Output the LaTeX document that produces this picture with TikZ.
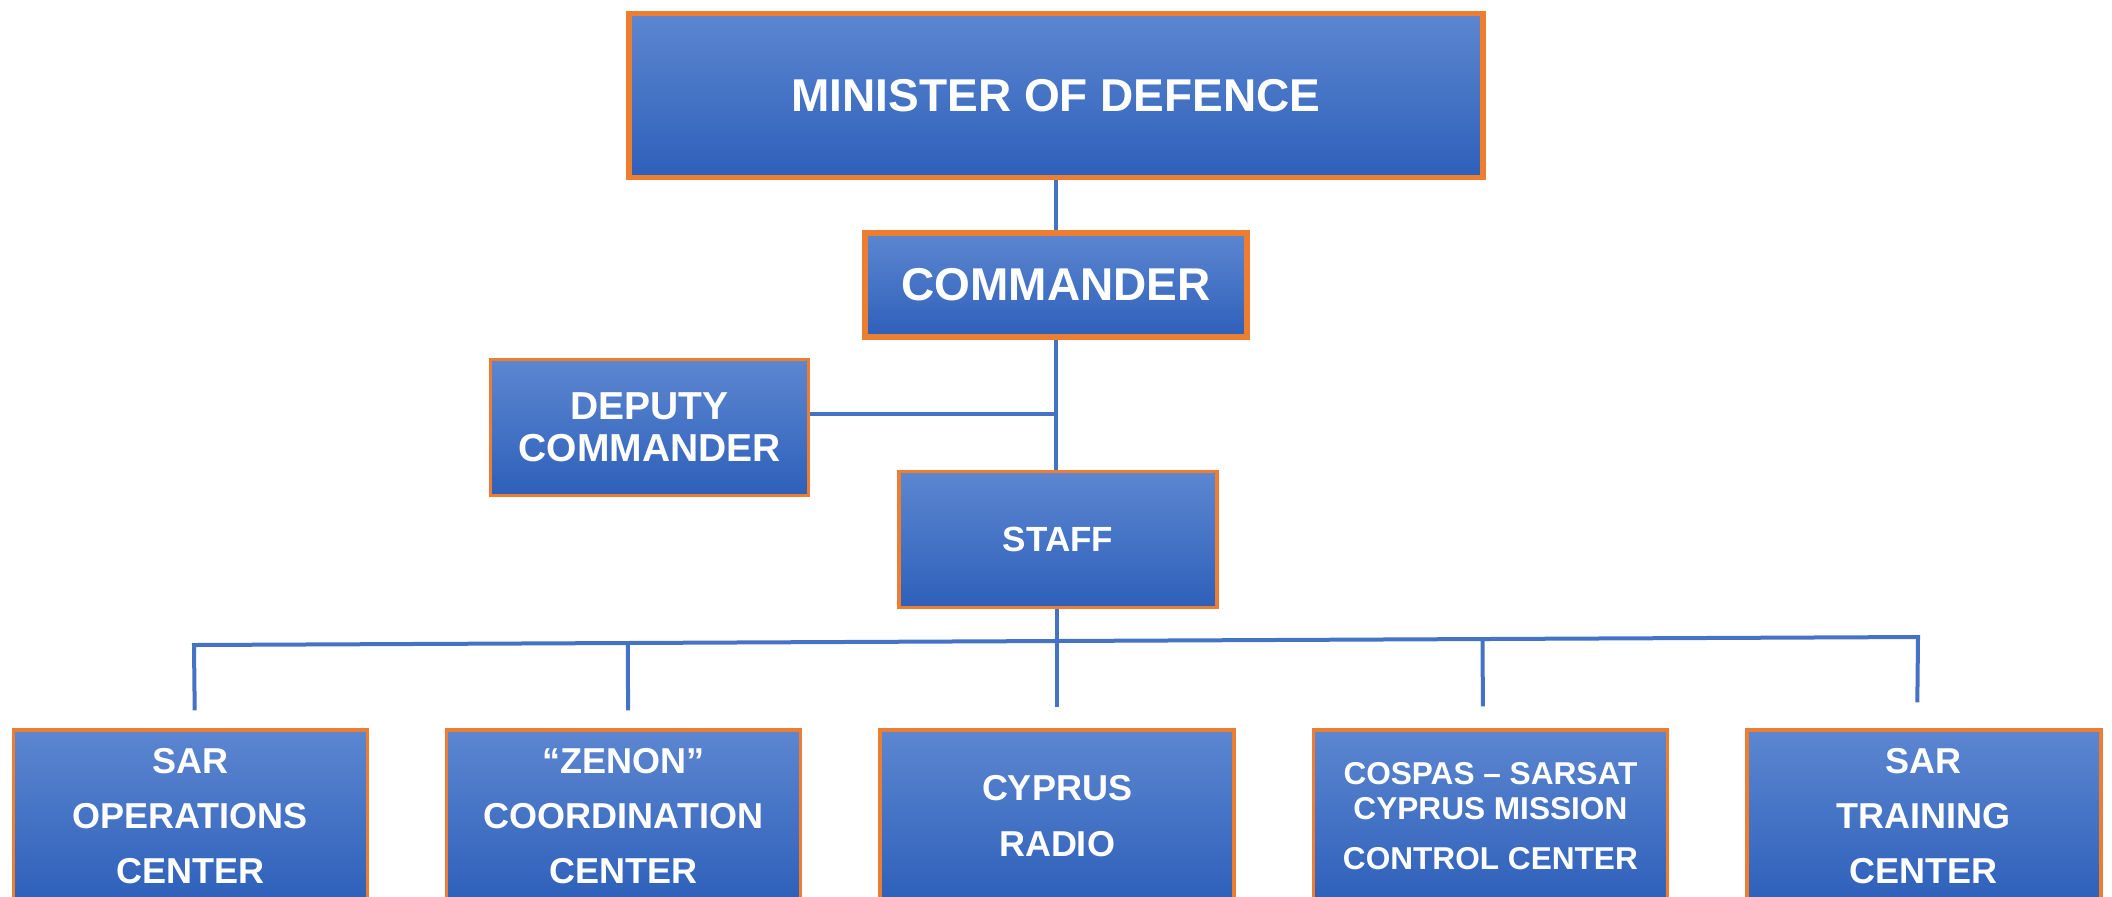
\documentclass[tikz,border=0pt]{standalone}
\usepackage{fontspec}
\setmainfont{Liberation Sans}
\usepackage{tikz}
\usetikzlibrary{positioning,calc}

\definecolor{boxtop}{HTML}{5C86D0}
\definecolor{boxbottom}{HTML}{2E60BA}
\definecolor{boxedge}{HTML}{ED7D31}
\definecolor{linkblue}{HTML}{4472C4}

\begin{document}
\begin{tikzpicture}[x=0.5pt, y=-0.5pt,
        unitbox/.style={rectangle, draw=boxedge, line width=1.7pt, top color=boxtop, bottom color=boxbottom, text=white, align=center, inner sep=0pt},
        topbox/.style={unitbox, line width=2.8pt},
        link/.style={draw=linkblue, line width=2pt}]
        \clip (0,0) rectangle (2112,896);

        \node (minister) [topbox, minimum width=427pt, minimum height=82pt, font=\bfseries\fontsize{23}{28}\selectfont] at (1056,95.5) {MINISTER OF DEFENCE};
        \node (commander) [topbox, below=25pt of minister, minimum width=191pt, minimum height=52pt, font=\bfseries\fontsize{23}{28}\selectfont] {COMMANDER};
        \node (staff) [unitbox, below=65pt of commander, xshift=1pt, minimum width=159pt, minimum height=68pt, font=\bfseries\fontsize{17.5}{21}\selectfont] {STAFF};
        \node (deputy) [unitbox, left=43.5pt of staff, yshift=56pt, minimum width=159pt, minimum height=68pt, font=\bfseries\fontsize{19.5}{21}\selectfont] {DEPUTY\\COMMANDER};

        % bottom row
        \node (radio) [unitbox, minimum width=177pt, minimum height=86pt, font=\bfseries\fontsize{18}{27.6}\selectfont] at (1057,816) {CYPRUS\\RADIO};
        \node (zenon) [unitbox, left=38pt of radio, minimum width=177pt, minimum height=86pt, font=\bfseries\fontsize{18}{27.6}\selectfont] {“ZENON”\\COORDINATION\\CENTER};
        \node (sarops) [unitbox, left=38pt of zenon, minimum width=177pt, minimum height=86pt, font=\bfseries\fontsize{18}{27.6}\selectfont] {SAR\\OPERATIONS\\CENTER};
        \node (cospas) [unitbox, right=38pt of radio, minimum width=177pt, minimum height=86pt, font=\bfseries\fontsize{15.8}{17.5}\selectfont] {COSPAS – SARSAT\\CYPRUS MISSION\\[7.5pt]CONTROL CENTER};
        \node (training) [unitbox, right=38pt of cospas, minimum width=177pt, minimum height=86pt, font=\bfseries\fontsize{18}{27.6}\selectfont] {SAR\\TRAINING\\CENTER};

        \coordinate (sarops top) at ([xshift=2.25pt, yshift=9pt]sarops.north);
        \coordinate (zenon top) at ([xshift=2.25pt, yshift=9pt]zenon.north);
        \coordinate (radio top) at ([yshift=10.5pt]radio.north);
        \coordinate (cospas top) at ([xshift=-3.75pt, yshift=11pt]cospas.north);
        \coordinate (training top) at ([xshift=-3.25pt, yshift=13pt]training.north);
        \coordinate (bar west) at (194,645);
        \coordinate (bar east) at (1918,637);
        \coordinate (deputy tap) at ([yshift=7pt]deputy.east);

        \draw[link] (minister.south) -- (commander.north);
        \draw[link] (commander.south) -- (commander.south |- staff.north);
        \draw[link] (deputy tap) -- (deputy tap -| commander.south);
        \draw[link] (radio top |- staff.south) -- (radio top);
        \draw[link] (sarops top) -- (bar west) -- (bar east) -- (training top);
        \draw[link] (zenon top) -- ($(bar west)!(zenon top)!(bar east)$);
        \draw[link] (cospas top) -- ($(bar west)!(cospas top)!(bar east)$);
    \end{tikzpicture}
\end{document}
